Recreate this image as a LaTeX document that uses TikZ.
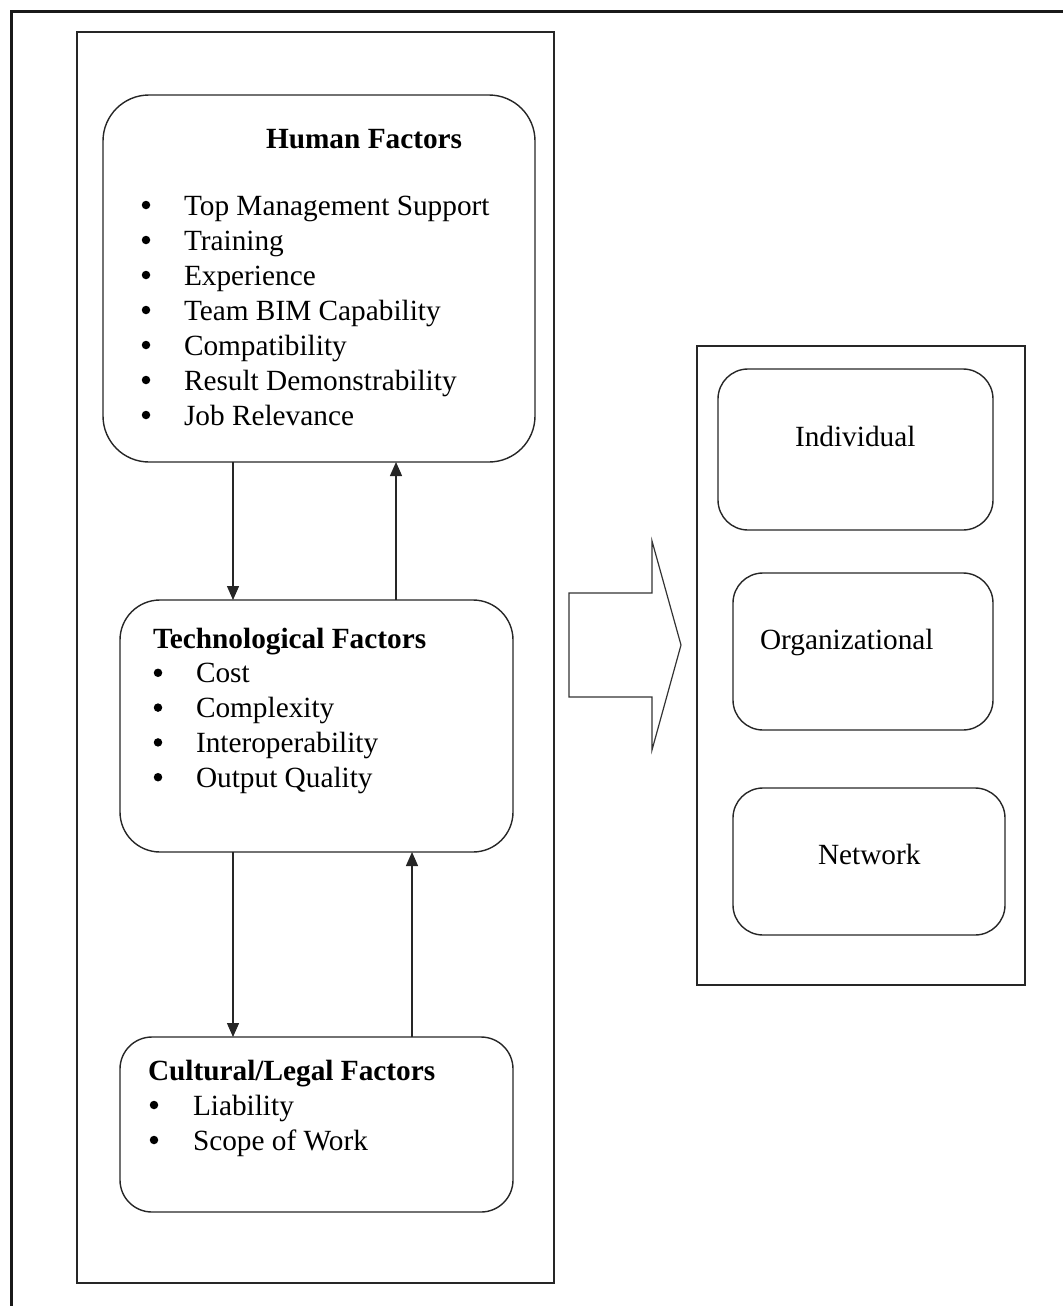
\documentclass[tikz,border=0pt]{standalone}
\usepackage{fontspec}
\setmainfont{Liberation Serif}
\usetikzlibrary{arrows.meta}
\begin{document}
\begin{tikzpicture}[x=1pt,y=-1pt,
  every node/.style={inner sep=0pt,outer sep=0pt},
  ln/.style={draw=black!85,line width=1.4pt},
  rbox/.style={ln,rectangle},
  txt/.style={anchor=base west,font=\fontsize{29.3}{35}\selectfont},
  ttl/.style={anchor=base west,font=\fontsize{29.3}{35}\selectfont\bfseries},
  bul/.style={circle,fill=black,minimum size=8.5pt},
  arr/.style={draw=black!85,line width=1.4pt,-{Triangle[length=14pt,width=12pt]}}]
\useasboundingbox (0,0) rectangle (1063,1306);
% outer frame (only top and left edges visible)
\draw[line width=3pt,black!90] (11,1306) -- (11,12) -- (1063,12);
% left container
\node[rbox,minimum width=477pt,minimum height=1251pt] (left) at (315.5,657.5) {};
% Human factors box
\node[rbox,rounded corners=46pt,minimum width=432pt,minimum height=367pt] (hf) at (319,278.5) {};
\node[ttl] (hft) at (266,148) {Human Factors};
\foreach \t [count=\i] in {Top Management Support,Training,Experience,Team BIM Capability,Compatibility,Result Demonstrability,Job Relevance}{
  \node[bul] (hb\i) at (146,{170+35*\i}) {};
  \node[txt] (h\i) at (184,{180+35*\i}) {\t};
}
% Technological factors box
\node[rbox,rounded corners=40pt,minimum width=393pt,minimum height=252pt] (tf) at (316.5,726) {};
\node[ttl] (tft) at (153,648) {Technological Factors};
\foreach \t [count=\i] in {Cost,Complexity,Interoperability,Output Quality}{
  \node[bul] (tb\i) at (158,{638+34.8*\i}) {};
  \node[txt] (t\i) at (196,{648+34.8*\i}) {\t};
}
% Cultural/legal factors box
\node[rbox,rounded corners=32pt,minimum width=393pt,minimum height=175pt] (cf) at (316.5,1124.5) {};
\node[ttl] (cft) at (148,1080) {Cultural/Legal Factors};
\foreach \t [count=\i] in {Liability,Scope of Work}{
  \node[bul] (cb\i) at (154,{1070+35*\i}) {};
  \node[txt] (c\i) at (193,{1080+35*\i}) {\t};
}
% connectors
\coordinate (xa) at (233,0);
\coordinate (xb) at (396,0);
\coordinate (xc) at (412,0);
\draw[arr] (hf.south -| xa) -- (tf.north -| xa);
\draw[arr] (tf.north -| xb) -- (hf.south -| xb);
\draw[arr] (tf.south -| xa) -- (cf.north -| xa);
\draw[arr] (cf.north -| xc) -- (tf.south -| xc);
% big block arrow
\draw[draw=black!80,line width=1.2pt,line join=miter]
  (569,593) -- (652,593) -- (652,541) -- (681,645) -- (652,750) -- (652,697) -- (569,697) -- cycle;
% right container
\node[rbox,minimum width=328pt,minimum height=639pt] (right) at (861,665.5) {};
\node[rbox,rounded corners=30pt,minimum width=275pt,minimum height=161pt] (ind) at (855.5,449.5) {};
\node[txt] (indt) at (795,446) {Individual};
\node[rbox,rounded corners=30pt,minimum width=260pt,minimum height=157pt] (org) at (863,651.5) {};
\node[txt] (orgt) at (760,649) {Organizational};
\node[rbox,rounded corners=30pt,minimum width=272pt,minimum height=147pt] (net) at (869,861.5) {};
\node[txt] (nett) at (818,864) {Network};
\end{tikzpicture}
\end{document}
